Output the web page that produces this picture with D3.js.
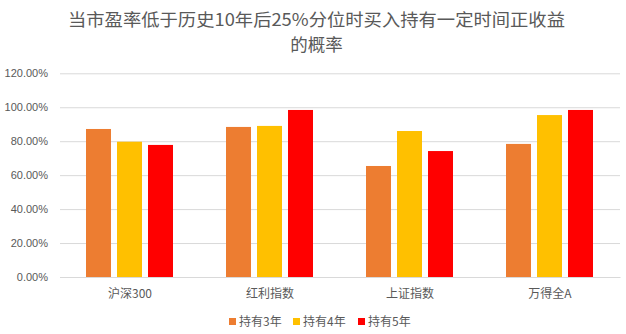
<!DOCTYPE html>
<html>
<head>
<meta charset="utf-8">
<script src="https://cdn.jsdelivr.net/npm/d3@7"></script>
<style>
  html, body { margin: 0; padding: 0; background: #fff; }
  svg { display: block; }
  text { font-family: "Noto Sans CJK SC", "Microsoft YaHei", sans-serif; fill: #595959; }
</style>
</head>
<body>
<svg id="chart" width="626" height="334"></svg>
<script>
// Index categories and holding-period series
const categories = ["沪深300", "红利指数", "上证指数", "万得全A"];
const seriesNames = ["持有3年", "持有4年", "持有5年"];
const seriesColors = ["#ED7D31", "#FFC000", "#FF0000"];
// Probability of positive return (fraction) per series, in category order
const hold3 = [0.872, 0.884, 0.654, 0.784];
const hold4 = [0.797, 0.890, 0.860, 0.954];
const hold5 = [0.778, 0.984, 0.742, 0.984];
const yTicks = [0, 0.2, 0.4, 0.6, 0.8, 1.0, 1.2];
const titleLines = ["当市盈率低于历史10年后25%分位时买入持有一定时间正收益", "的概率"];

const seriesValues = [hold3, hold4, hold5];
const svg = d3.select("#chart");

const plot = { left: 60, right: 620, top: 73.3, bottom: 277 };

const x0 = d3.scaleBand().domain(categories).range([plot.left, plot.right]).padding(0);
const x1 = d3.scaleBand().domain(seriesNames).range([26, 113]).paddingInner(0.194).paddingOuter(0);
const y = d3.scaleLinear().domain([0, 1.2]).range([plot.bottom, plot.top]);

// Title, two centred lines
const title = svg.append("g");
titleLines.forEach((t, i) => {
  title.append("text")
    .attr("x", 316.5)
    .attr("y", i === 0 ? 26 : 51)
    .attr("text-anchor", "middle")
    .attr("font-size", 17.5)
    .attr("textLength", i === 0 ? 497 : null)
    .attr("lengthAdjust", "spacingAndGlyphs")
    .text(t);
});

// Gridlines and y axis labels
const yAxis = d3.axisLeft(y)
  .tickValues(yTicks)
  .tickSize(-(plot.right - plot.left))
  .tickPadding(12)
  .tickFormat(d => (d * 100).toFixed(2) + "%");

const yG = svg.append("g")
  .attr("transform", `translate(${plot.left},0)`)
  .call(yAxis);
yG.select(".domain").remove();
yG.selectAll(".tick line").attr("stroke", "#d9d9d9").attr("stroke-width", 1);
yG.selectAll(".tick text")
  .attr("font-size", 11)
  .attr("fill", "#595959")
  .style("font-family", "'Liberation Sans', Arial, sans-serif");

// Bars
const groups = svg.append("g").selectAll("g")
  .data(categories)
  .join("g")
  .attr("transform", d => `translate(${x0(d)},0)`);

groups.selectAll("rect")
  .data((c, ci) => seriesNames.map((s, si) => ({ s, si, v: seriesValues[si][ci] })))
  .join("rect")
  .attr("x", d => x1(d.s))
  .attr("width", x1.bandwidth())
  .attr("y", d => y(d.v))
  .attr("height", d => y(0) - y(d.v))
  .attr("fill", d => seriesColors[d.si]);

// Category axis
const xAxis = d3.axisBottom(x0).tickSize(0).tickPadding(12);
const xG = svg.append("g")
  .attr("transform", `translate(0,${plot.bottom})`)
  .call(xAxis);
xG.select(".domain").attr("stroke", "#d9d9d9");
xG.selectAll(".tick text")
  .attr("font-size", 12)
  .attr("fill", "#595959")
  .style("font-family", "'Noto Sans CJK SC', sans-serif");

// Legend
const legendX = [229, 293, 358];
const legend = svg.append("g").selectAll("g")
  .data(seriesNames)
  .join("g")
  .attr("transform", (d, i) => `translate(${legendX[i]},318)`);
legend.append("rect")
  .attr("width", 7).attr("height", 7)
  .attr("fill", (d, i) => seriesColors[i]);
legend.append("text")
  .attr("x", 10).attr("y", 7.5)
  .attr("font-size", 12)
  .text(d => d);
</script>
</body>
</html>
